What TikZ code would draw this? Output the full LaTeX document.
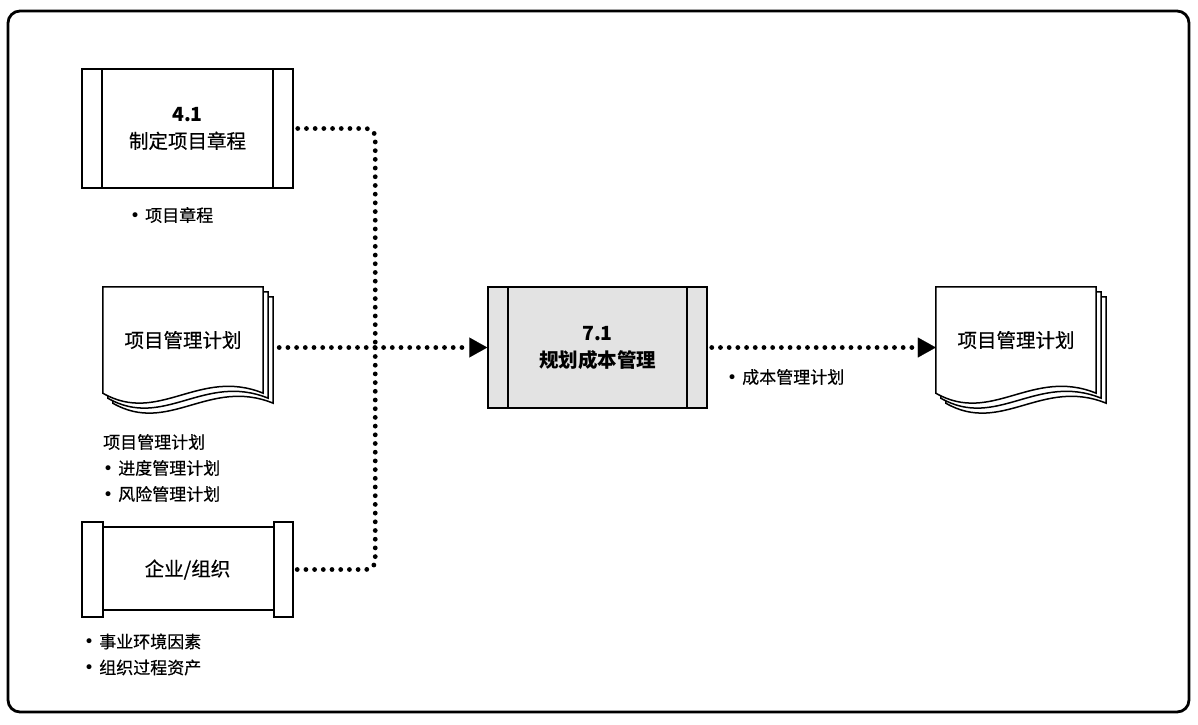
\documentclass[tikz,border=0pt]{standalone}
\usepackage{fontspec}
\newfontfamily\cjk[FakeBold=0.45, BoldFeatures={FakeBold=0}]{Noto Sans CJK SC}
\newfontfamily\dotfont{DejaVu Sans}
\newcommand\bul{{\dotfont •}\hspace{5pt}}
\usetikzlibrary{arrows.meta,calc,backgrounds}
\definecolor{procgray}{HTML}{E3E3E3}
\tikzset{
	boxline/.style={line width=1.5pt},
	procbox/.style={draw, boxline, align=center, minimum width=211pt, minimum height=119pt,
		font=\cjk\fontsize{19.5}{27}\selectfont,
		path picture={\draw[boxline] ([xshift=20pt]path picture bounding box.north west) -- ([xshift=20pt]path picture bounding box.south west)
			([xshift=-20pt]path picture bounding box.north east) -- ([xshift=-20pt]path picture bounding box.south east);}},
	orgbox/.style={align=center, minimum width=211pt, minimum height=95pt, font=\cjk\fontsize{19.5}{27}\selectfont},
	docnode/.style={align=center, minimum width=160pt, minimum height=106pt, font=\cjk\fontsize{19.5}{27}\selectfont},
	note/.style={anchor=west, align=left, inner sep=0pt, font=\cjk\fontsize{17}{26}\selectfont},
	flow/.style={line width=4.8pt, line cap=round, dash pattern=on 0pt off 8.7pt, rounded corners=9pt},
	flowarrow/.style={flow, -{Triangle[length=18pt, width=20pt, line width=0.1pt]}}
}
\newcommand\docsheet[3]{%
	\draw[boxline, fill=white] ([shift={(#2,#3)}]#1.north west) -- ([shift={(#2,#3)}]#1.north east) -- ([shift={(#2,#3)}]#1.south east)
		.. controls +(-64,-26) and +(56,32) .. ([shift={(#2,#3)}]#1.south west) -- cycle;}
\newcommand\docstack[1]{%
	\docsheet{#1}{10}{10}
	\docsheet{#1}{5}{5}
	\docsheet{#1}{0}{0}}
\begin{document}
\begin{tikzpicture}[x=1pt, y=-1pt]
	\useasboundingbox (0,0) rectangle (1198,724);
	\draw[line width=2.8pt, rounded corners=12pt] (8,11) rectangle (1189,712);

	\node[procbox] (p41) at (187.5,128.5) {\textbf{4.1}\\制定项目章程};
	\node[docnode] (pmp) at (183,340) {项目管理计划};
	\node[orgbox] (org) at (187.5,569.5) {企业/组织};
	\node[procbox, fill=procgray, minimum width=219pt, minimum height=121pt, font=\cjk\bfseries\fontsize{19.5}{27}\selectfont] (p71) at (597.5,347.5) {7.1\\规划成本管理};
	\node[docnode] (out) at (1016,340) {项目管理计划};

	\begin{scope}[on background layer]
		\docstack{pmp}
		\docstack{out}
	\end{scope}

	\draw[boxline] (org.north west) rectangle ([xshift=21pt]org.south west);
	\draw[boxline] (org.north east) rectangle ([xshift=-19pt]org.south east);
	\draw[boxline] ([xshift=21pt, yshift=-5pt]org.north west) -- ([xshift=-19pt, yshift=-5pt]org.north east);
	\draw[boxline] ([xshift=21pt, yshift=7pt]org.south west) -- ([xshift=-19pt, yshift=7pt]org.south east);

	\node[note] (n41) at (130,215) {\bul 项目章程};
	\node[note] (npmp) at (103,468) {项目管理计划\\\bul 进度管理计划\\\bul 风险管理计划};
	\node[note] (norg) at (84,654.5) {\bul 事业环境因素\\\bul 组织过程资产};
	\node[note] (nout) at (727,377) {\bul 成本管理计划};

	\coordinate (jn) at ($(p71.west)+(-112,0)$);
	\draw[flow] ([xshift=4pt]p41.east) -| (jn);
	\draw[flow] ([xshift=4pt]org.east) -| (jn);
	\draw[flowarrow] ([xshift=16pt]pmp.east |- p71.west) -- (p71.west);
	\draw[flowarrow] ([xshift=4pt]p71.east) -- (out.west |- p71.east);
\end{tikzpicture}
\end{document}
